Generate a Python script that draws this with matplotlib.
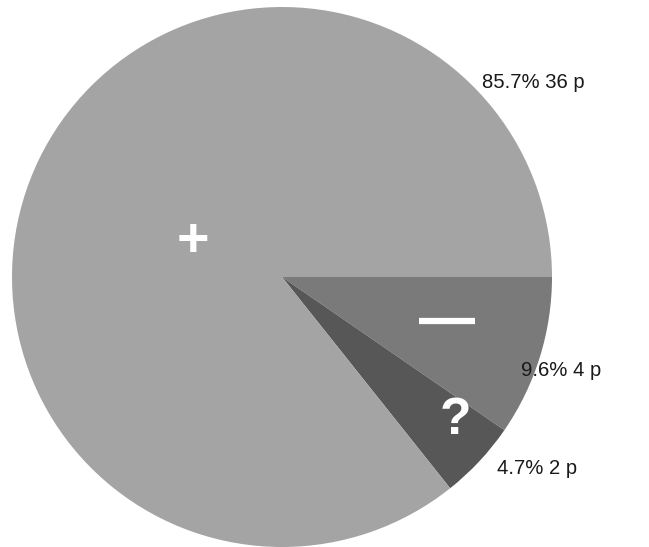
import matplotlib
matplotlib.use("Agg")
import matplotlib.pyplot as plt

categories = ["—", "?", "+"]
percents = [9.6, 4.7, 85.7]
counts = [4, 2, 36]
colors = ["#7a7a7a", "#575757", "#a4a4a4"]

W, H = 649, 547
fig = plt.figure(figsize=(W / 100, H / 100), dpi=100)
ax = fig.add_axes([0, 0, 1, 1])

cx, cy, r = 282, H - 277, 270
ax.pie(percents, colors=colors, startangle=0, counterclock=False,
       center=(cx, cy), radius=r, frame=True,
       wedgeprops=dict(linewidth=0))
ax.set_xlim(0, W)
ax.set_ylim(0, H)
ax.set_aspect("equal")
ax.axis("off")

font = "Liberation Sans"
# symbols inside slices
ax.text(193, H - 242, "+", color="white", fontsize=40, fontweight="bold",
        ha="center", va="center", family=font)
ax.plot([419, 475], [H - 321, H - 321], color="white", lw=4.5, solid_capstyle="butt")
ax.text(455, H - 421, "?", color="white", fontsize=37, fontweight="bold",
        ha="center", va="center", family=font)

# outside labels
label_pos = [(521, H - 370), (497, H - 469), (482, H - 83)]
for (x, y), p, c in zip(label_pos, percents, counts):
    ax.text(x, y, f"{p}% {c} p", fontsize=14.6, color="#1a1a1a",
            ha="left", va="center", family=font)

fig.savefig("out.png", dpi=100)
